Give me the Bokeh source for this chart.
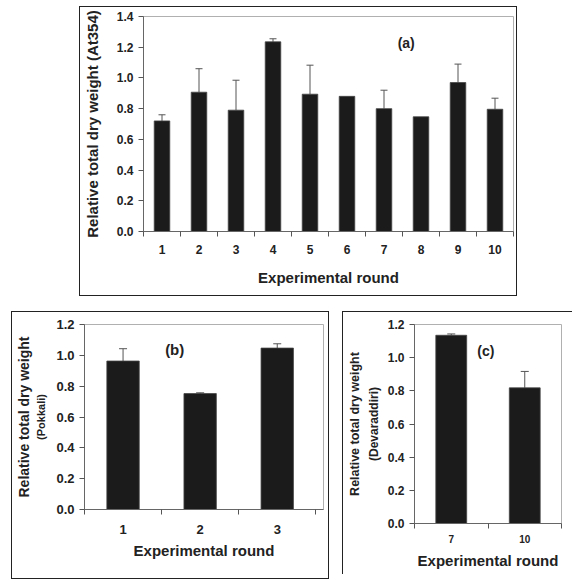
import numpy as np
from bokeh.plotting import figure
from bokeh.models import (ColumnDataSource, Whisker, TeeHead, FixedTicker,
                          NumeralTickFormatter, Label, Title, Range1d, Spacer)
from bokeh.layouts import column, row
from bokeh.embed import file_html
from bokeh.resources import INLINE

# ---------------- data ----------------
rounds_a = ["1", "2", "3", "4", "5", "6", "7", "8", "9", "10"]
weight_a = [0.72, 0.907, 0.79, 1.235, 0.894, 0.88, 0.80, 0.747, 0.97, 0.796]
err_a = [0.04, 0.153, 0.195, 0.02, 0.189, 0.0, 0.12, 0.0, 0.12, 0.072]
yticks_a = [0.0, 0.2, 0.4, 0.6, 0.8, 1.0, 1.2, 1.4]

rounds_b = ["1", "2", "3"]
weight_b = [0.963, 0.752, 1.047]
err_b = [0.08, 0.005, 0.028]

rounds_c = ["7", "10"]
weight_c = [1.135, 0.818]
err_c = [0.008, 0.099]
yticks_bc = [0.0, 0.2, 0.4, 0.6, 0.8, 1.0, 1.2]

FONT = "Liberation Sans"
BAR = "#1b1b1b"
INK = "#222222"


def panel(rounds, weights, errs, yticks, size, borders, x_pad_right,
          tick_fs, xtick_fs, title_fs, xlabel, ylabel_fs, tag, tag_pos, tag_fs,
          ylabel=None, ylabel2=None, ylabel2_fs=None, cap=7,
          xl_stand=(8, 12), yl_stand=(5, 12), title_standoff=3, frame_mode=False):
    n = len(rounds)
    xs = list(range(1, n + 1))
    if frame_mode:
        dims = dict(frame_width=size[0], frame_height=size[1])
    else:
        dims = dict(width=size[0], height=size[1])
    p = figure(output_backend="svg", toolbar_location=None,
               x_range=Range1d(0.5, n + 0.5 + x_pad_right),
               y_range=Range1d(yticks[0], yticks[-1]),
               min_border_left=borders[0], min_border_right=borders[1],
               min_border_top=borders[2], min_border_bottom=borders[3], **dims)
    p.xgrid.visible = False
    p.ygrid.visible = False
    p.outline_line_color = "#b0b0b0"
    p.outline_line_width = 1
    p.background_fill_color = "white"
    p.border_fill_color = "white"

    src = ColumnDataSource(dict(x=xs, top=weights))
    p.vbar(x="x", top="top", bottom=0, width=0.42, source=src,
           fill_color=BAR, line_color="#444444", line_width=0.8)

    ex = [x for x, e in zip(xs, errs) if e > 0]
    et = [w for w, e in zip(weights, errs) if e > 0]
    eu = [w + e for w, e in zip(weights, errs) if e > 0]
    esrc = ColumnDataSource(dict(x=ex, top=et, upper=eu))
    wk = Whisker(base="x", upper="upper", lower="top", source=esrc,
                 line_color="#555555", line_width=1,
                 upper_head=TeeHead(size=cap, line_color="#555555", line_width=1),
                 lower_head=None)
    p.add_layout(wk)

    # x axis
    xa = p.xaxis[0]
    xa.ticker = FixedTicker(ticks=xs, minor_ticks=[i + 0.5 for i in range(0, n + 1)])
    xa.major_label_overrides = {x: r for x, r in zip(xs, rounds)}
    xa.major_tick_line_color = None
    xa.major_tick_in = 0
    xa.major_tick_out = 0
    xa.minor_tick_in = 0
    xa.minor_tick_out = 5
    xa.minor_tick_line_color = "#555555"
    xa.axis_line_color = "#666666"
    xa.major_label_text_font = FONT
    xa.major_label_text_font_style = "bold"
    xa.major_label_text_font_size = xtick_fs
    xa.major_label_text_color = INK
    xa.major_label_standoff = xl_stand[0]
    xa.axis_label = xlabel
    xa.axis_label_text_font = FONT
    xa.axis_label_text_font_style = "bold"
    xa.axis_label_text_font_size = title_fs
    xa.axis_label_text_color = INK
    xa.axis_label_standoff = xl_stand[1]

    # y axis
    ya = p.yaxis[0]
    ya.ticker = FixedTicker(ticks=yticks, minor_ticks=[])
    ya.formatter = NumeralTickFormatter(format="0.0")
    ya.major_tick_in = 0
    ya.major_tick_out = 5
    ya.major_tick_line_color = "#555555"
    ya.minor_tick_line_color = None
    ya.axis_line_color = "#666666"
    ya.major_label_text_font = FONT
    ya.major_label_text_font_style = "bold"
    ya.major_label_text_font_size = tick_fs
    ya.major_label_text_color = INK
    ya.major_label_standoff = yl_stand[0]
    if ylabel2 is None:
        ya.axis_label = ylabel
        ya.axis_label_text_font_size = ylabel_fs
    else:
        ya.axis_label = ylabel2
        ya.axis_label_text_font_size = ylabel2_fs
        t = Title(text=ylabel, align="center", text_font=FONT, text_font_style="bold",
                  text_font_size=ylabel_fs, text_color=INK, standoff=title_standoff)
        p.add_layout(t, "left")
    ya.axis_label_text_font = FONT
    ya.axis_label_text_font_style = "bold"
    ya.axis_label_text_color = INK
    ya.axis_label_standoff = yl_stand[1]

    p.add_layout(Label(x=tag_pos[0], y=tag_pos[1], text=tag, text_font=FONT,
                       text_font_style="bold", text_font_size=tag_fs, text_color=INK,
                       text_align="center", text_baseline="middle"))
    return p


pa = panel(rounds_a, weight_a, err_a, yticks_a, (438, 290), (61, 5, 9, 66), 0.0,
           "12px", "12px", "15px", "Experimental round", "15px", "(a)", (7.6, 1.225), "14px",
           ylabel="Relative total dry weight (At354)", cap=7,
           xl_stand=(8, 12), yl_stand=(5, 13))
pa.styles = {"border": "1px solid #222"}

pb = panel(rounds_b, weight_b, err_b, yticks_bc, (318, 268), (70, 7, 8, 71), 0.1,
           "13px", "13px", "15px", "Experimental round", "14px", "(b)", (1.67, 1.04), "15px",
           ylabel="Relative total dry weight", ylabel2="(Pokkali)", ylabel2_fs="11px", cap=8,
           xl_stand=(10, 5), yl_stand=(5, 6), title_standoff=2)
pb.styles = {"border": "1px solid #222"}

pc = panel(rounds_c, weight_c, err_c, yticks_bc, (146, 198), (71, 12, 12, 52), 0.0,
           "12px", "10px", "15px", "Experimental round", "12.5px", "(c)", (1.47, 1.04), "14px",
           ylabel="Relative total dry weight", ylabel2="(Devaraddiri)", ylabel2_fs="12px", cap=8,
           xl_stand=(6, 6), yl_stand=(5, 4), frame_mode=True)
pc.styles = {"border-left": "1px solid #222", "border-top": "1px solid #222"}

layout = column(
    Spacer(width=10, height=6),
    row(Spacer(width=79, height=292), pa),
    Spacer(width=10, height=13),
    row(Spacer(width=11, height=270), pb, Spacer(width=13, height=270), pc),
)

open("out.html", "w").write(file_html(layout, INLINE))
